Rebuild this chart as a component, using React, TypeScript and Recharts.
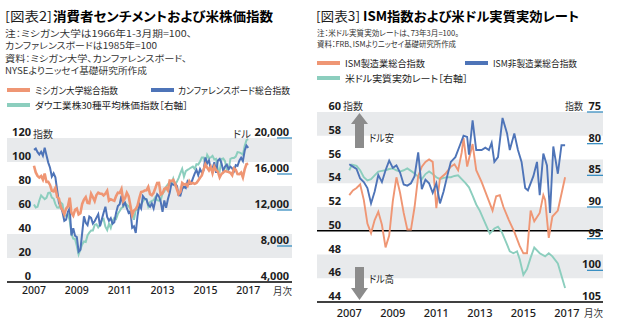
import React from "react";
import { LineChart, Line, XAxis, YAxis, ReferenceArea, ReferenceLine } from "recharts";

// 図表2: 2007年1月～2017年1月（月次）
const michigan = [
  96.9, 91.3, 88.4, 87.1, 88.3, 85.3, 90.4, 83.4, 83.4, 80.9, 76.1, 75.5,
  78.4, 70.8, 69.5, 62.6, 59.8, 56.4, 61.2, 63.0, 70.3, 57.6, 55.3, 60.1,
  61.2, 56.3, 57.3, 65.1, 68.7, 70.8, 66.0, 65.7, 73.5, 70.6, 67.4, 72.5,
  74.4, 73.6, 73.6, 72.2, 73.6, 76.0, 67.8, 68.9, 68.2, 67.7, 71.6, 74.5,
  74.2, 77.5, 67.5, 69.8, 74.3, 71.5, 63.7, 55.8, 59.5, 60.8, 63.7, 69.9,
  75.0, 75.3, 76.2, 76.4, 79.3, 73.2, 72.3, 74.3, 78.3, 82.6, 82.7, 72.9,
  73.8, 77.6, 78.6, 76.4, 84.5, 84.1, 85.1, 82.1, 77.5, 73.2, 75.1, 82.5,
  81.2, 81.6, 80.0, 84.1, 81.9, 82.5, 81.8, 82.5, 84.6, 86.9, 88.8, 93.6,
  98.1, 95.4, 93.0, 95.9, 90.7, 96.1, 93.1, 91.9, 87.2, 90.0, 91.3, 92.6,
  92.0, 91.7, 91.0, 89.0, 94.7, 93.5, 90.0, 89.8, 91.2, 87.2, 93.8, 98.2,
  98.5,
];
const conference = [
  110.2, 111.2, 108.2, 106.3, 108.5, 105.3, 111.9, 105.6, 99.5, 95.2, 87.8, 90.6,
  87.3, 76.4, 65.9, 62.8, 58.1, 51.0, 51.9, 58.5, 61.4, 38.8, 44.7, 38.6,
  37.4, 25.3, 26.9, 40.8, 54.8, 49.3, 47.4, 54.5, 53.4, 48.7, 50.6, 53.6,
  56.5, 46.4, 52.3, 57.7, 62.7, 54.3, 51.0, 53.2, 48.6, 49.9, 57.8, 63.4,
  64.8, 72.0, 63.8, 66.0, 61.7, 57.6, 59.2, 45.2, 46.4, 40.9, 55.2, 64.8,
  61.5, 71.6, 69.5, 68.7, 64.4, 62.7, 65.4, 61.3, 68.4, 73.1, 71.5, 66.7,
  58.4, 68.0, 61.9, 69.0, 74.3, 82.1, 81.0, 81.8, 80.2, 72.4, 72.0, 77.5,
  79.4, 78.3, 83.9, 81.7, 82.2, 86.4, 90.3, 93.4, 89.0, 94.1, 91.0, 93.1,
  103.8, 98.8, 101.4, 94.3, 94.6, 99.8, 91.0, 101.3, 102.6, 99.1, 92.6, 96.3,
  97.8, 94.0, 96.1, 94.7, 92.4, 97.4, 96.7, 101.1, 103.5, 100.8, 109.4, 113.7,
  111.8,
];
const dow = [
  12622, 12269, 12354, 13063, 13628, 13409, 13212, 13358, 13896, 13930, 13372, 13265,
  12650, 12266, 12263, 12820, 12638, 11350, 11378, 11544, 10851, 9325, 8829, 8776,
  8001, 7063, 7609, 8168, 8500, 8447, 9172, 9496, 9712, 9713, 10345, 10428,
  10067, 10325, 10857, 11009, 10137, 9774, 10466, 10015, 10788, 11118, 11006, 11578,
  11892, 12226, 12320, 12811, 12570, 12414, 12143, 11614, 10913, 11955, 12046, 12218,
  12633, 12952, 13212, 13214, 12393, 12880, 13009, 13091, 13437, 13096, 13026, 13104,
  13861, 14054, 14579, 14840, 15116, 14910, 15500, 14810, 15130, 15546, 16086, 16577,
  15699, 16322, 16458, 16581, 16717, 16827, 16563, 17098, 17043, 17391, 17828, 17823,
  17165, 18133, 17776, 17841, 18011, 17620, 17690, 16528, 16285, 17664, 17720, 17425,
  16466, 16517, 17685, 17774, 17787, 17930, 18432, 18401, 18308, 18142, 19124, 19763,
  19864,
];

// 図表3: 月（2007年1月=0）と値
const ismMfgMonth = [
  0, 2, 4, 6, 8, 10, 12, 14, 16, 18, 20, 22, 24, 26, 28, 30, 32, 34, 36, 38,
  40, 42, 44, 46, 48, 50, 53, 56, 58, 60, 62, 63, 65, 68, 70, 73, 76, 79, 81, 83,
  85, 88, 91, 94, 96, 98, 100, 102, 105, 107, 108, 110, 112, 115, 119,
];
const ismMfg = [
  53.0, 53.4, 53.6, 53.9, 52.6, 50.6, 49.8, 50.9, 51.6, 50.5, 48.6, 49.6, 52.5, 54.5, 53.2, 51.5, 50.1, 50.1, 52.0, 54.6,
  55.4, 55.8, 56.0, 55.8, 51.9, 54.4, 54.8, 55.4, 55.6, 55.1, 56.6, 57.8, 55.4, 57.3, 55.1, 54.1, 52.9, 51.7, 52.9, 53.0,
  52.0, 50.9, 49.9, 48.7, 48.1, 48.1, 51.7, 50.8, 51.5, 53.0, 52.6, 49.4, 51.2, 51.7, 54.5,
];
const ismNonMfgMonth = [
  0, 2, 4, 6, 8, 10, 12, 14, 16, 18, 20, 22, 24, 26, 28, 30, 32, 34, 36, 38,
  40, 42, 44, 46, 48, 50, 52, 54, 56, 58.5, 61, 63, 65, 66, 68, 70, 73, 75, 77, 78.5,
  80, 82, 84.5, 87, 88.5, 91, 93, 95, 97, 98.5, 101.5, 103.5, 105, 107, 109, 110.7, 112.5, 115, 117, 119,
];
const ismNonMfg = [
  55.6, 55.4, 55.2, 54.4, 54.1, 53.6, 52.3, 53.3, 54.7, 54.1, 55.1, 55.9, 55.3, 55.5, 54.9, 53.9, 53.8, 54.0, 54.6, 56.6,
  53.5, 54.3, 54.0, 53.2, 54.0, 52.3, 53.3, 54.6, 55.8, 56.2, 57.2, 58.0, 57.9, 56.4, 59.3, 56.8, 56.8, 57.0, 56.8, 57.4,
  55.8, 56.2, 59.5, 58.2, 56.8, 58.2, 56.8, 55.8, 53.6, 53.4, 54.6, 55.8, 53.0, 56.5, 55.5, 51.5, 57.1, 54.8, 57.2, 57.2,
];
const reerMonth = [
  0, 1.5, 4, 6, 8, 10, 12, 14, 16, 18, 20, 22, 24, 26, 28, 30, 32, 34, 36, 38,
  40, 42, 44, 46, 48, 50, 52, 54, 56, 58, 60, 62, 64, 66, 68, 70, 72, 75, 77.5, 80,
  82, 84, 86.5, 88.5, 90.5, 92.5, 94, 96, 98, 100, 102, 105, 108, 110, 112, 115, 119,
];
const reer = [
  84.2, 83.3, 83.5, 84.2, 85.3, 85.8, 85.6, 85.0, 84.4, 84.3, 84.2, 84.0, 83.9, 84.2, 84.4, 84.2, 83.9, 84.3, 84.7, 85.2,
  85.6, 84.8, 84.4, 84.8, 85.3, 85.6, 85.4, 85.3, 85.3, 85.1, 85.0, 85.6, 86.2, 86.9, 88.2, 89.6, 90.6, 92.6, 94.2, 93.4,
  93.1, 93.9, 95.6, 97.0, 97.3, 97.0, 98.3, 100.7, 99.8, 98.0, 96.4, 97.3, 97.8, 97.3, 97.8, 98.9, 102.8,
];

const yearTicks = [0, 24, 48, 72, 96, 120];
const yearLabels = ["2007", "2009", "2011", "2013", "2015", "2017"];
const sentimentTicks = [0, 20, 40, 60, 80, 100, 120];
const dowTicks = [4000, 8000, 12000, 16000, 20000];
const ismTicks = [44, 46, 48, 50, 52, 54, 56, 58, 60];
const reerTicks = [75, 80, 85, 90, 95, 100, 105];

const leftLegend = ["ミシガン大学総合指数", "カンファレンスボード総合指数", "ダウ工業株30種平均株価指数［右軸］"];
const rightLegend = ["ISM製造業総合指数", "ISM非製造業総合指数", "米ドル実質実効レート［右軸］"];

const JP = '"Noto Sans CJK JP", "Noto Sans", sans-serif';
const NUM = '"Noto Sans", "Noto Sans CJK JP", sans-serif';
const ORANGE = "#ef9674";
const BLUE = "#4e74b8";
const GREEN = "#8cceBe";
const BAND = "#e8eaec";
const TICK_BLUE = "#3a8fc2";
const INK = "#1c1c1c";
const GRAY_TXT = "#333";
const ARROW = "#8c8c8c";

const fmtUsd = (v: number) => v.toLocaleString("en-US");

// 一つおきに塗る帯（上から）
function bandsFrom(ticks: number[]) {
  const out: [number, number][] = [];
  for (let i = ticks.length - 1; i > 0; i -= 2) out.push([ticks[i - 1], ticks[i]]);
  return out;
}

const valueTick = (right: number) => (p: any) => (
  <text x={right} y={p.y - 6.5} textAnchor="end" dominantBaseline="central"
    fontFamily={NUM} fontSize={11} fontWeight={700} fill={INK}>
    {p.payload.value}
  </text>
);

const scaleTick = (right: number, x1: number, x2: number, skip: number, fmt: (v: number) => string) => (p: any) => (
  <g>
    {p.payload.value !== skip && (
      <line x1={x1} x2={x2} y1={p.y} y2={p.y} stroke={TICK_BLUE} strokeWidth={1.3} />
    )}
    <text x={right} y={p.y - 6.5} textAnchor="end" dominantBaseline="central"
      fontFamily={NUM} fontSize={11} fontWeight={700} fill={INK}>
      {fmt(p.payload.value)}
    </text>
  </g>
);

const yearTick = (yc: number, size: number) => (p: any) => (
  <text x={p.x} y={yc} textAnchor="middle" dominantBaseline="central"
    fontFamily={NUM} fontSize={size} fontWeight={500} fill={INK}>
    {yearLabels[yearTicks.indexOf(p.payload.value)]}
  </text>
);

function SentimentChart() {
  const rows = michigan.map((v, i) => ({ t: i, michigan: v, conference: conference[i], dow: dow[i] }));
  return (
    <div style={{ position: "absolute", left: 0, top: 100 }}>
      <LineChart width={310} height={200} data={rows} margin={{ top: 38, right: 0, bottom: 0, left: 0 }}>
        {bandsFrom(sentimentTicks).map(([a, b]) => (
          <ReferenceArea key={a} yAxisId="idx" y1={a} y2={b} fill={BAND} fillOpacity={1} stroke="none" />
        ))}
        <XAxis type="number" dataKey="t" domain={[-15.1, 144.5]} ticks={yearTicks} interval={0} height={18}
          tickLine={false} axisLine={{ stroke: "#000", strokeWidth: 1.4 }} tick={yearTick(190, 10.5)} />
        <YAxis yAxisId="idx" domain={[0, 120]} ticks={sentimentTicks} interval={0} width={7}
          axisLine={false} tickLine={false} tick={valueTick(31)} />
        <YAxis yAxisId="usd" orientation="right" domain={[4000, 20000]} ticks={dowTicks} interval={0} width={18}
          axisLine={false} tickLine={false} tick={scaleTick(289, 277, 292, 4000, fmtUsd)} />
        <Line yAxisId="usd" dataKey="dow" stroke={GREEN} strokeWidth={2} dot={false} isAnimationActive={false} />
        <Line yAxisId="idx" dataKey="conference" stroke={BLUE} strokeWidth={2} dot={false} isAnimationActive={false} />
        <Line yAxisId="idx" dataKey="michigan" stroke={ORANGE} strokeWidth={2.6} dot={false} isAnimationActive={false} />
      </LineChart>
    </div>
  );
}

function IsmChart() {
  const mfgRows = ismMfgMonth.map((t, i) => ({ t, v: ismMfg[i] }));
  const nonRows = ismNonMfgMonth.map((t, i) => ({ t, v: ismNonMfg[i] }));
  const reerRows = reerMonth.map((t, i) => ({ t, v: reer[i] }));
  return (
    <div style={{ position: "absolute", left: 310, top: 95 }}>
      <LineChart width={307} height={225} margin={{ top: 17, right: 0, bottom: 0, left: 0 }}>
        {bandsFrom(ismTicks).map(([a, b]) => (
          <ReferenceArea key={a} yAxisId="ism" y1={a} y2={b} fill={BAND} fillOpacity={1} stroke="none" />
        ))}
        <ReferenceLine yAxisId="ism" y={50} stroke="#000" strokeWidth={1.4} />
        <XAxis type="number" dataKey="t" domain={[-17.8, 139.9]} ticks={yearTicks} interval={0} height={18}
          tickLine={false} axisLine={{ stroke: "#000", strokeWidth: 1.4 }} tick={yearTick(217, 11)} />
        <YAxis yAxisId="ism" domain={[44, 60]} ticks={ismTicks} interval={0} width={7}
          axisLine={false} tickLine={false} tick={valueTick(31)} />
        <YAxis yAxisId="reer" orientation="right" reversed domain={[75, 105]} ticks={reerTicks} interval={0} width={14}
          axisLine={false} tickLine={false} tick={scaleTick(291, 277, 293, 105, String)} />
        <Line yAxisId="reer" data={reerRows} dataKey="v" stroke={GREEN} strokeWidth={1.9} dot={false} isAnimationActive={false} />
        <Line yAxisId="ism" data={mfgRows} dataKey="v" stroke={ORANGE} strokeWidth={1.9} dot={false} isAnimationActive={false} />
        <Line yAxisId="ism" data={nonRows} dataKey="v" stroke={BLUE} strokeWidth={1.9} dot={false} isAnimationActive={false} />
      </LineChart>
    </div>
  );
}

function Txt(props: { x: number; y: number; w: number; size: number; weight?: number; color?: string; children: string }) {
  const { x, y, w, size, weight = 400, color = GRAY_TXT, children } = props;
  return (
    <text x={x} y={y} textLength={w} lengthAdjust="spacingAndGlyphs" fontFamily={JP} fontSize={size}
      fontWeight={weight} fill={color} dominantBaseline="central" style={{ fontFeatureSettings: '"palt"' }}>
      {children}
    </text>
  );
}

function Swatch({ x, y, color }: { x: number; y: number; color: string }) {
  return <rect x={x} y={y - 2} width={23} height={4} fill={color} />;
}

function Overlay() {
  return (
    <svg width={617} height={336} style={{ position: "absolute", left: 0, top: 0 }}>
      {/* 図表2 */}
      <Txt x={5} y={15} w={47} size={13} color={INK}>[図表2]</Txt>
      <Txt x={53} y={15} w={220} size={13} weight={700} color="#000">消費者センチメントおよび米株価指数</Txt>
      <Txt x={5} y={33} w={187} size={8.6}>注：ミシガン大学は1966年1-3月期=100、</Txt>
      <Txt x={5} y={45.3} w={152} size={8.6}>カンファレンスボードは1985年=100</Txt>
      <Txt x={5} y={57.6} w={182} size={8.6}>資料：ミシガン大学、カンファレンスボード、</Txt>
      <Txt x={5} y={70} w={142} size={8.6}>NYSEよりニッセイ基礎研究所作成</Txt>
      <Swatch x={7} y={90} color={ORANGE} />
      <Txt x={35} y={90} w={83} size={9.5} color={INK}>{leftLegend[0]}</Txt>
      <Swatch x={151} y={90} color={BLUE} />
      <Txt x={178} y={90} w={112} size={9.5} color={INK}>{leftLegend[1]}</Txt>
      <Swatch x={7} y={105} color={GREEN} />
      <Txt x={35} y={105} w={153} size={9.5} color={INK}>{leftLegend[2]}</Txt>
      <Txt x={33} y={133} w={20} size={10}>指数</Txt>
      <Txt x={233} y={133} w={18} size={10}>ドル</Txt>
      <Txt x={273} y={290} w={19} size={10}>月次</Txt>

      {/* 図表3 */}
      <Txt x={316} y={15} w={44} size={13} color={INK}>[図表3]</Txt>
      <Txt x={363} y={15} w={216} size={13} weight={700} color="#000">ISM指数および米ドル実質実効レート</Txt>
      <Txt x={317} y={32} w={142} size={8}>注：米ドル実質実効レートは、73年3月=100。</Txt>
      <Txt x={317} y={43.5} w={139} size={8}>資料：FRB、ISMよりニッセイ基礎研究所作成</Txt>
      <Swatch x={317} y={63} color={ORANGE} />
      <Txt x={345} y={63} w={80} size={9.5} color={INK}>{rightLegend[0]}</Txt>
      <Swatch x={465} y={63} color={BLUE} />
      <Txt x={493} y={63} w={84} size={9.5} color={INK}>{rightLegend[1]}</Txt>
      <Swatch x={317} y={78} color={GREEN} />
      <Txt x={345} y={78} w={123} size={9.5} color={INK}>{rightLegend[2]}</Txt>
      <Txt x={343} y={105} w={20} size={10}>指数</Txt>
      <Txt x={565} y={105} w={18} size={10}>指数</Txt>
      <Txt x={584} y={312} w={19} size={10}>月次</Txt>

      <polygon points="359.5,113 368,124 364,124 364,148 355,148 355,124 351,124" fill={ARROW} />
      <Txt x={369} y={137.5} w={25} size={10} color={INK}>ドル安</Txt>
      <polygon points="355,267 364,267 364,288 368,288 359.5,300 351,288 355,288" fill={ARROW} />
      <Txt x={369} y={278} w={25} size={10} color={INK}>ドル高</Txt>
    </svg>
  );
}

export default function App() {
  return (
    <div style={{ position: "absolute", left: 0, top: 0, width: 617, height: 336, background: "#fff", overflow: "hidden" }}>
      <SentimentChart />
      <IsmChart />
      <Overlay />
    </div>
  );
}
